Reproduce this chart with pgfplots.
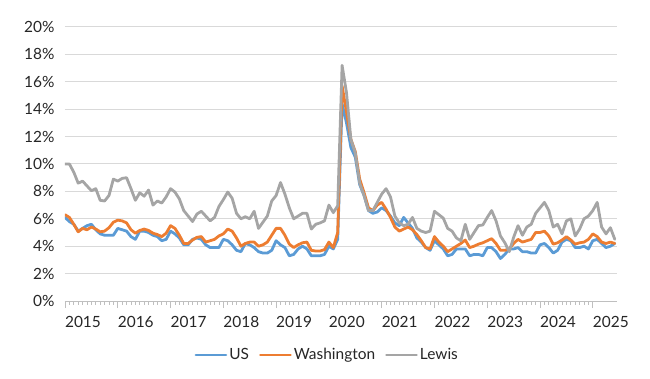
\documentclass[border=0pt]{standalone}
\usepackage{fontspec}
\setmainfont{Lato}
\usepackage{pgfplots}
\pgfplotsset{compat=1.18}
\usepackage{pgfplotstable}
\definecolor{usblue}{HTML}{5B9BD5}
\definecolor{waorange}{HTML}{ED7D31}
\definecolor{lewisgray}{HTML}{A5A5A5}
\definecolor{gridgray}{HTML}{D9D9D9}
\definecolor{axisgray}{HTML}{BFBFBF}
\definecolor{txt}{HTML}{262626}
\pgfplotstableread{
m us wa lewis
0 6.1 6.3 10.0
1 5.8 6.1 10.0
2 5.6 5.6 9.4
3 5.1 5.05 8.6
4 5.3 5.3 8.75
5 5.5 5.2 8.4
6 5.6 5.4 8.05
7 5.2 5.25 8.2
8 4.9 5.05 7.35
9 4.8 5.1 7.3
10 4.8 5.35 7.7
11 4.8 5.75 8.9
12 5.3 5.9 8.75
13 5.2 5.85 8.95
14 5.1 5.7 9.0
15 4.7 5.2 8.2
16 4.5 4.95 7.35
17 5.1 5.15 7.9
18 5.1 5.25 7.65
19 5.0 5.15 8.1
20 4.8 4.95 7.0
21 4.7 4.85 7.3
22 4.4 4.7 7.15
23 4.5 4.95 7.6
24 5.1 5.5 8.2
25 4.9 5.3 7.95
26 4.6 4.8 7.45
27 4.1 4.2 6.6
28 4.1 4.2 6.2
29 4.5 4.45 5.8
30 4.6 4.65 6.35
31 4.5 4.7 6.55
32 4.1 4.3 6.2
33 3.9 4.4 5.85
34 3.9 4.5 6.1
35 3.9 4.75 6.9
36 4.5 4.9 7.4
37 4.4 5.25 7.95
38 4.1 5.1 7.5
39 3.7 4.6 6.4
40 3.6 4.0 6.0
41 4.2 4.2 6.15
42 4.1 4.3 6.0
43 3.9 4.3 6.55
44 3.6 4.0 5.3
45 3.5 4.1 5.75
46 3.5 4.3 6.2
47 3.7 4.8 7.3
48 4.4 5.3 7.7
49 4.1 5.3 8.65
50 3.9 4.8 7.8
51 3.3 4.15 6.8
52 3.4 3.9 6.0
53 3.8 4.1 6.2
54 4.0 4.25 6.4
55 3.8 4.3 6.4
56 3.3 3.7 5.25
57 3.3 3.65 5.6
58 3.3 3.65 5.7
59 3.4 3.75 5.85
60 4.0 4.3 7.0
61 3.8 3.9 6.45
62 4.5 5.0 6.95
63 14.4 15.7 17.2
64 13.0 13.8 15.2
65 11.2 11.8 11.8
66 10.5 10.9 10.8
67 8.5 8.9 8.6
68 7.7 7.9 7.7
69 6.6 6.8 6.6
70 6.4 6.6 6.6
71 6.5 7.0 7.2
72 6.8 7.2 7.8
73 6.6 6.7 8.2
74 6.2 6.1 7.6
75 5.7 5.4 6.2
76 5.5 5.1 5.7
77 6.1 5.25 5.5
78 5.7 5.4 5.6
79 5.3 5.2 6.1
80 4.6 4.85 5.3
81 4.3 4.4 5.1
82 3.9 3.9 5.0
83 3.7 3.8 5.1
84 4.4 4.7 6.55
85 4.1 4.3 6.3
86 3.8 4.0 6.05
87 3.3 3.6 5.3
88 3.4 3.8 5.1
89 3.8 4.0 4.6
90 3.8 4.2 4.4
91 3.8 4.45 5.6
92 3.3 3.9 4.5
93 3.4 4.0 5.0
94 3.4 4.15 5.5
95 3.3 4.25 5.55
96 3.9 4.4 6.1
97 3.9 4.55 6.6
98 3.6 4.2 5.85
99 3.1 3.7 4.75
100 3.4 3.7 4.25
101 3.8 3.8 3.6
102 3.8 4.2 4.65
103 3.9 4.5 5.5
104 3.6 4.3 4.8
105 3.6 4.4 5.4
106 3.5 4.5 5.6
107 3.5 5.0 6.4
108 4.1 5.0 6.8
109 4.2 5.1 7.2
110 3.9 4.75 6.6
111 3.5 4.15 5.4
112 3.7 4.25 5.6
113 4.3 4.45 4.9
114 4.5 4.7 5.85
115 4.4 4.45 6.0
116 3.9 4.15 4.75
117 3.9 4.25 5.25
118 4.0 4.3 6.0
119 3.8 4.5 6.2
120 4.4 4.9 6.6
121 4.5 4.7 7.2
122 4.2 4.3 5.4
123 3.9 4.2 4.9
124 4.0 4.3 5.35
125 4.2 4.2 4.5
}\datatable
\begin{document}
\begin{tikzpicture}
\path[use as bounding box] (-65bp,-78bp) rectangle (585bp,301bp);
\begin{axis}[
  scale only axis,
  width=552bp, height=274bp,
  xmin=0, xmax=125.5, ymin=0, ymax=20,
  axis x line*=bottom, axis y line*=left,
  y axis line style={draw=none},
  x axis line style={axisgray, line width=0.9bp},
  ytick={0,2,...,20},
  yticklabels={0\%,2\%,4\%,6\%,8\%,10\%,12\%,14\%,16\%,18\%,20\%},
  ytick style={draw=none},
  ymajorgrids,
  grid style={gridgray, line width=1bp},
  xtick={0,12,...,120},
  xticklabels={2015,2016,2017,2018,2019,2020,2021,2022,2023,2024,2025},
  minor x tick num=11,
  xtick style={axisgray, line width=0.8bp},
  major tick length=7bp, minor tick length=3.5bp,
  tick align=outside,
  xticklabel style={xshift=18bp, yshift=-5bp},
  ticklabel style={font=\fontsize{15.5}{18}\selectfont, text=txt},
  legend style={at={(axis description cs:0.475,-0.197)}, anchor=center, draw=none, fill=none,
    font=\fontsize{15.5}{18}\selectfont, text=txt,
    /tikz/every even column/.append style={column sep=8bp}},
  legend columns=-1,
  legend image code/.code={\draw[#1] (0bp,0bp) -- (30bp,0bp);},
  every axis plot/.append style={line width=2.8bp, line join=round, line cap=round},
]
\addplot[usblue, no markers] table[x=m, y=us] {\datatable};
\addlegendentry{US}
\addplot[waorange, no markers] table[x=m, y=wa] {\datatable};
\addlegendentry{Washington}
\addplot[lewisgray, no markers] table[x=m, y=lewis] {\datatable};
\addlegendentry{Lewis}
\end{axis}
\end{tikzpicture}
\end{document}
